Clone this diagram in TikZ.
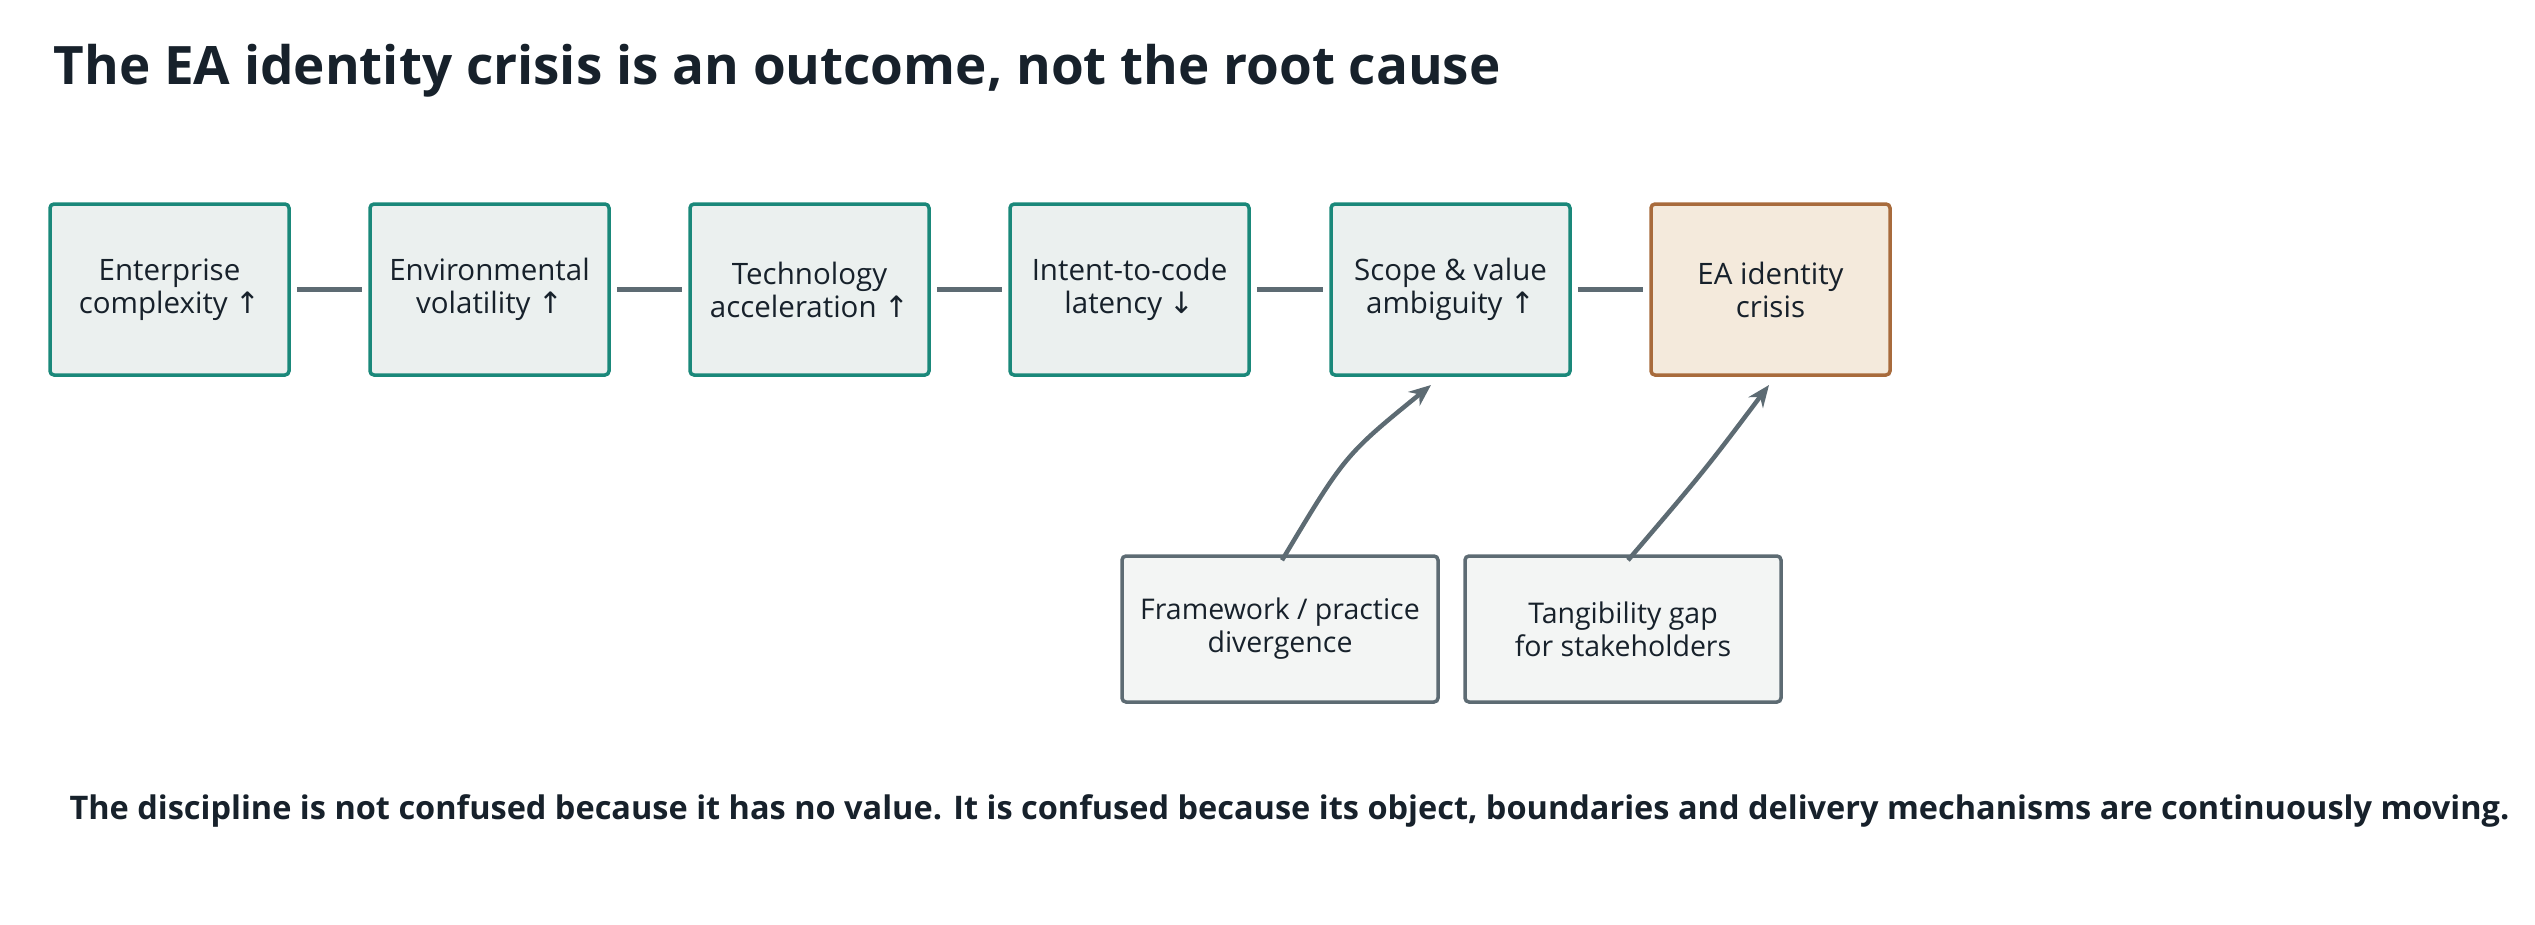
\documentclass[tikz,border=0pt]{standalone}
\usepackage{fontspec}
\setmainfont{Open Sans}
\newfontfamily\symf{DejaVu Sans}
\newcommand{\myup}{{\symf ↑}}
\newcommand{\mydn}{{\symf ↓}}
\usetikzlibrary{arrows.meta}
\definecolor{ink}{HTML}{17212B}
\definecolor{teal}{HTML}{1A887A}
\definecolor{tealfill}{HTML}{EBF0EF}
\definecolor{orng}{HTML}{A86B3C}
\definecolor{orngfill}{HTML}{F4EADC}
\definecolor{gry}{HTML}{5D6B73}
\definecolor{gryfill}{HTML}{F3F5F4}
\begin{document}
\begin{tikzpicture}[x=1pt,y=-1pt,
  box/.style={draw=teal,fill=tealfill,line width=3.5pt,rounded corners=4pt,minimum width=239pt,minimum height=171pt,align=center,text=ink,font=\fontsize{29.5}{33}\selectfont,inner sep=0pt},
  hot/.style={box,draw=orng,fill=orngfill},
  side/.style={box,draw=gry,fill=gryfill,minimum width=316pt,minimum height=146pt,font=\fontsize{28.5}{33}\selectfont},
  link/.style={draw=gry,line width=4.5pt},
  arr/.style={link,-{Stealth[length=22pt,width=18pt]}}]
\useasboundingbox (0,0) rectangle (2535,924);
\node[anchor=west,text=ink,font=\fontsize{53}{62}\selectfont\bfseries] (title) at (50,71) {The EA identity crisis is an outcome, not the root cause};
\node[box] (b1) at (169.5,289.5) {Enterprise\\complexity \myup};
\node[box] (b2) at (489.5,289.5) {Environmental\\volatility \myup};
\node[box] (b3) at (809.5,289.5) {Technology\\acceleration \myup};
\node[box] (b4) at (1129.5,289.5) {Intent-to-code\\latency \mydn};
\node[box] (b5) at (1450.5,289.5) {Scope \& value\\ambiguity \myup};
\node[hot] (b6) at (1770.5,289.5) {EA identity\\crisis};
\node[side] (s1) at (1280,629) {Framework / practice\\divergence};
\node[side] (s2) at (1623,629) {Tangibility gap\\for stakeholders};
\foreach \a/\b in {b1/b2,b2/b3,b3/b4,b4/b5,b5/b6}
  \draw[link] ([xshift=6pt]\a.east) -- ([xshift=-6pt]\b.west);
\draw[arr] ([xshift=2pt,yshift=-6pt]s1.north) .. controls (1345,455) .. (1431,385);
\draw[arr] ([xshift=5pt,yshift=-6pt]s2.north) .. controls (1705,470) .. (1769,385);
\node[anchor=west,text=ink,font=\fontsize{32.5}{38}\selectfont\bfseries] (foot) at (66,811) {The discipline is not confused because it has no value. It is confused because its object, boundaries and delivery mechanisms are continuously moving.};
\end{tikzpicture}
\end{document}
